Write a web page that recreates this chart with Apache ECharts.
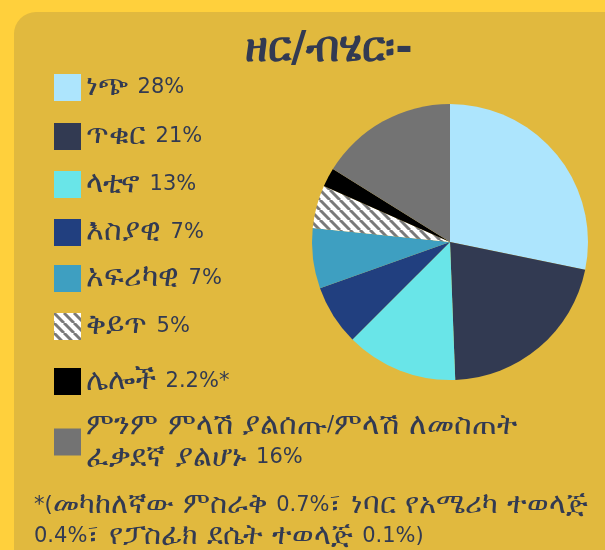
<!DOCTYPE html>
<html>
<head>
<meta charset="utf-8">
<script src="https://cdn.jsdelivr.net/npm/echarts@6/dist/echarts.min.js"></script>
<style>
  html, body { margin: 0; padding: 0; background: #FFD03C; }
  #main { width: 605px; height: 550px; }
</style>
</head>
<body>
<div id="main"></div>
<script>
// ዘር/ብሄር pie
var titleText = 'ዘር/ብሄር፡-';
var categories = ['ነጭ', 'ጥቁር', 'ላቲኖ', 'እስያዊ', 'አፍሪካዊ', 'ቅይጥ', 'ሌሎች', 'ምንም ምላሽ ያልሰጡ/ምላሽ ለመስጠት\nፈቃደኛ ያልሆኑ'];
var values = [28, 21, 13, 7, 7, 5, 2.2, 16];
var suffixes = ['', '', '', '', '', '', '*', ''];
var footnote = '*(መካከለኛው ምስራቅ 0.7%፣ ነባር የአሜሪካ ተወላጅ\n0.4%፣ የፓስፊክ ደሴት ተወላጅ 0.1%)';

var textColor = '#323A52';

// ethiopic glyphs are small in DejaVu, so give them their own bigger size
function tagRuns(str) {
    return str.split('\n').map(function (line) {
        var out = '', cur = '', curE = null;
        for (var i = 0; i < line.length; i++) {
            var ch = line[i];
            var code = ch.charCodeAt(0);
            var isE = (code >= 0x1200 && code <= 0x139F);
            if (ch === ' ' && curE !== null) isE = curE;
            if (curE !== null && isE !== curE) {
                out += '{' + (curE ? 'e' : 'n') + '|' + cur + '}';
                cur = '';
            }
            cur += ch;
            curE = isE;
        }
        if (cur) out += '{' + (curE ? 'e' : 'n') + '|' + cur + '}';
        return out;
    }).join('\n');
}

function richStyles(lh, eSize) {
    return {
        e: { fontSize: eSize, fontFamily: 'DejaVu Sans', color: textColor, fill: textColor, lineHeight: lh },
        n: { fontSize: 21, fontFamily: 'DejaVu Sans', color: textColor, fill: textColor, lineHeight: lh }
    };
}

// hatch for ቅይጥ
function hatch() {
    var s = 10;
    var c = document.createElement('canvas');
    c.width = s; c.height = s;
    var ctx = c.getContext('2d');
    ctx.fillStyle = '#ffffff';
    ctx.fillRect(0, 0, s, s);
    ctx.strokeStyle = '#7a7a7a';
    ctx.lineWidth = 3;
    [-s, 0, s].forEach(function (k) {
        ctx.beginPath();
        ctx.moveTo(k, 0);
        ctx.lineTo(k + s, s);
        ctx.stroke();
    });
    return c;
}

var colors = ['#ADE5FD', '#323A52', '#69E5E8', '#213F7F', '#3E9FC1',
    { image: hatch(), repeat: 'repeat' }, '#000000', '#737373'];

var legendCenters = [86.5, 135.5, 183.5, 231.5, 277.5, 325.5, 380.5, 441];
var rowH = 32;

var myChart = echarts.init(document.getElementById('main'));

var option = {
    backgroundColor: '#FFD03C',
    animation: false,
    title: {
        text: titleText,
        left: 240,
        top: 24,
        textStyle: { color: textColor, fontSize: 42, fontWeight: 'bold', fontFamily: 'DejaVu Sans' }
    },
    graphic: [{
        type: 'rect',
        z: -10,
        shape: { x: 14, y: 12, width: 620, height: 600, r: 22 },
        style: { fill: '#E1B93E' }
    }, {
        type: 'text',
        left: 34,
        top: 491,
        style: {
            text: tagRuns(footnote),
            fill: textColor,
            rich: richStyles(31, 29)
        }
    }],
    legend: categories.map(function (name, i) {
        var lines = name.split('\n').length;
        return {
            data: [name],
            orient: 'vertical',
            left: 54,
            top: legendCenters[i] - rowH * lines / 2 + 2,
            padding: 0,
            itemWidth: 27,
            itemHeight: 27,
            itemGap: 0,
            icon: 'rect',
            selectedMode: false,
            formatter: function (n) {
                var idx = categories.indexOf(n);
                return tagRuns(n + ' ' + values[idx] + '%' + suffixes[idx]);
            },
            textStyle: { color: textColor, rich: richStyles(rowH, 30) }
        };
    }),
    series: [{
        type: 'pie',
        center: [450, 242],
        radius: 138,
        startAngle: 90,
        clockwise: true,
        label: { show: false },
        labelLine: { show: false },
        emphasis: { disabled: true },
        itemStyle: { borderWidth: 0 },
        data: categories.map(function (name, i) {
            return { name: name, value: values[i], itemStyle: { color: colors[i] } };
        })
    }]
};

myChart.setOption(option, true);
</script>
</body>
</html>
